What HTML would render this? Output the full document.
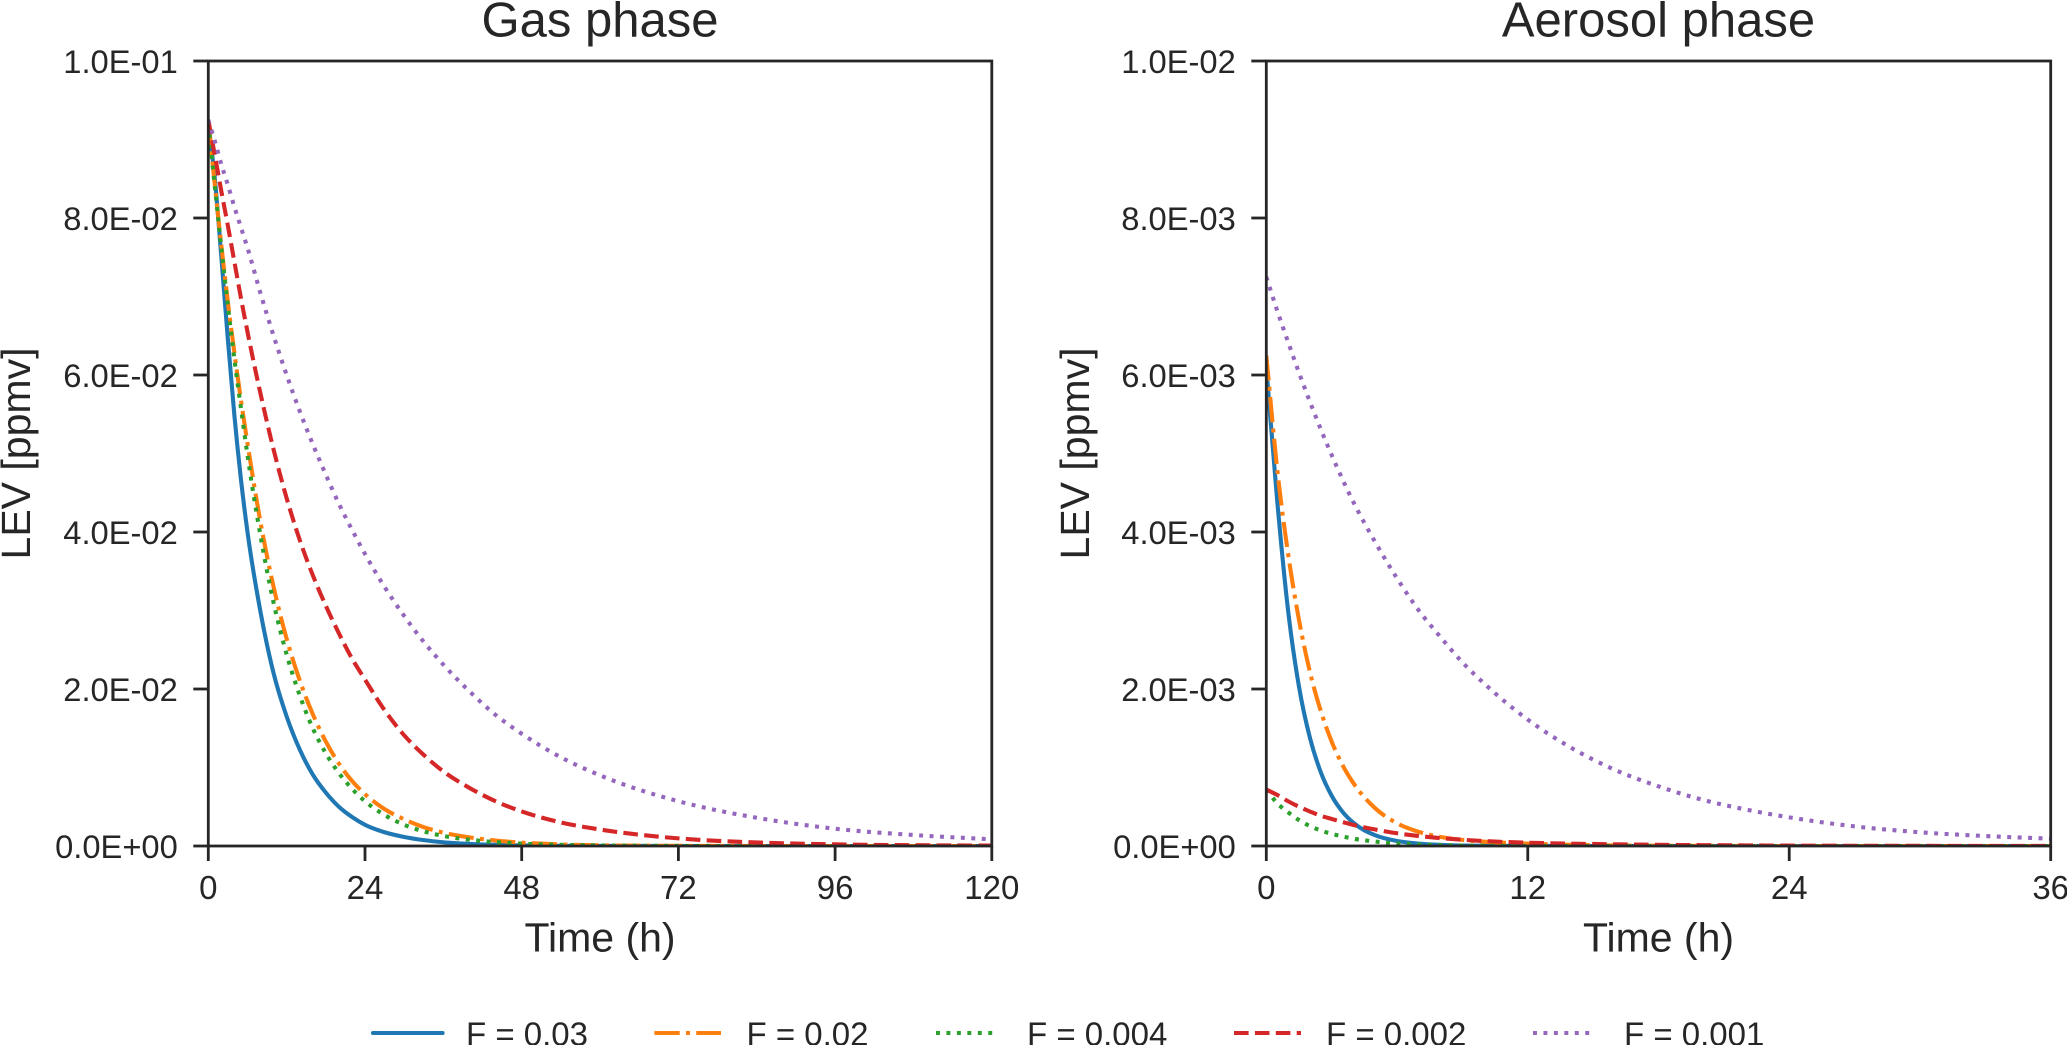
<!DOCTYPE html>
<html lang="en">
<head>
<meta charset="utf-8">
<title>LEV decay in gas and aerosol phases</title>
<style>
  html, body { margin: 0; padding: 0; background: #fff; width: 2067px; height: 1045px; overflow: hidden; }
  svg { display: block; font-family: "Liberation Sans", Arial, sans-serif; fill: #262626; }
</style>
</head>
<body>
<svg id="chart" xmlns="http://www.w3.org/2000/svg" width="2067" height="1045" viewBox="0 0 2067 1045"></svg>
<script>
// ---------- Data: Gas phase (time in h, values in 1E-02 ppmv) ----------
const gasTime = [0,1,2,3,4,5,6,8,10,12,14,16,18,20,22,24,27,30,33,36,40,44,48,54,60,72,84,96,108,120];
const gasF003 = [9.2,8.5,7.5,6.45,5.48,4.67,4.0,2.98,2.2,1.65,1.23,.91,.68,.5,.37,.27,.175,.115,.075,.048,.027,.015,.008,.003,.001,0,0,0,0,0];
const gasF002 = [9.25,8.42,7.65,6.93,6.28,5.68,5.13,4.12,3.3,2.64,2.11,1.68,1.33,1.05,.83,.66,.47,.34,.24,.17,.11,.07,.043,.02,.009,.002,0,0,0,0];
const gasF0004 = [9.2,8.4,7.62,6.88,6.2,5.58,4.98,3.95,3.1,2.44,1.92,1.5,1.18,.93,.73,.57,.395,.27,.186,.128,.08,.05,.03,.015,.007,.001,0,0,0,0];
const gasF0002 = [9.25,8.8,8.34,7.9,7.44,6.98,6.55,5.76,5.05,4.43,3.9,3.45,3.06,2.71,2.39,2.12,1.73,1.41,1.16,.95,.74,.57,.44,.3,.21,.097,.045,.021,.01,.005];
const gasF0001 = [9.25,8.98,8.68,8.42,8.14,7.88,7.62,7.04,6.5,6.0,5.54,5.12,4.73,4.36,4.03,3.72,3.3,2.93,2.6,2.31,1.97,1.67,1.43,1.13,.9,.57,.36,.22,.14,.085];

// ---------- Data: Aerosol phase (time in h, values in 1E-03 ppmv) ----------
const aerTime = [0,.5,1,1.5,2,2.5,3,3.5,4,5,6,7,8,9,10,12,14,16,18,20,22,24,27,30,33,36];
const aerF003 = [6.1,4.4,3.0,2.03,1.38,.94,.64,.435,.295,.137,.064,.03,.014,.006,.003,.001,0,0,0,0,0,0,0,0,0,0];
const aerF002 = [6.25,4.8,3.72,2.88,2.22,1.72,1.33,1.03,.8,.48,.29,.18,.115,.078,.055,.03,.015,.008,.004,.002,0,0,0,0,0,0];
const aerF0004 = [.72,.545,.43,.33,.255,.198,.155,.122,.093,.057,.032,.018,.01,.006,.003,.001,0,0,0,0,0,0,0,0,0,0];
const aerF0002 = [.72,.65,.57,.5,.44,.385,.345,.305,.268,.21,.162,.127,.1,.08,.063,.042,.03,.022,.015,.011,.008,.005,.003,.002,.001,.001];
const aerF0001 = [7.25,6.82,6.42,6.03,5.66,5.31,4.98,4.67,4.38,3.87,3.41,3.0,2.66,2.34,2.07,1.61,1.25,.97,.76,.59,.465,.365,.25,.175,.127,.093];

// ---------- Ticks and labels ----------
const gasXTicks = [0,24,48,72,96,120];
const aerXTicks = [0,12,24,36];
const yTickValues = [0,2,4,6,8,10];
const gasYLabels = ["0.0E+00","2.0E-02","4.0E-02","6.0E-02","8.0E-02","1.0E-01"];
const aerYLabels = ["0.0E+00","2.0E-03","4.0E-03","6.0E-03","8.0E-03","1.0E-02"];
const seriesNames = ["F = 0.03","F = 0.02","F = 0.004","F = 0.002","F = 0.001"];
const seriesSlugs = ["f-0-03","f-0-02","f-0-004","f-0-002","f-0-001"];
const seriesColors = ["#1f77b4","#ff7f0e","#2ca02c","#d62728","#9467bd"];
const seriesDashes = ["none","25.3 6.3 3.95 6.3","3.95 6.5","14.6 6.3","3.95 6.5"];

const NS = "http://www.w3.org/2000/svg";
const INK = "#262626";
const LW = 4.1;
const svg = document.getElementById("chart");

function make(parent, tag, attrs, name, text) {
  const el = document.createElementNS(NS, tag);
  for (const k in attrs) el.setAttribute(k, attrs[k]);
  
  
  if (text !== undefined) el.textContent = text;
  parent.appendChild(el);
  return el;
}

function smoothPath(xs, ys) {
  const n = xs.length;
  const slope = [];
  for (let i = 0; i < n; i++) {
    if (i === 0) { slope.push((ys[1] - ys[0]) / (xs[1] - xs[0])); continue; }
    if (i === n - 1) { slope.push((ys[i] - ys[i - 1]) / (xs[i] - xs[i - 1])); continue; }
    const h0 = xs[i] - xs[i - 1], h1 = xs[i + 1] - xs[i];
    const d0 = (ys[i] - ys[i - 1]) / h0, d1 = (ys[i + 1] - ys[i]) / h1;
    slope.push((h1 * d0 + h0 * d1) / (h0 + h1));
  }
  let d = "M" + xs[0].toFixed(2) + " " + ys[0].toFixed(2);
  for (let i = 0; i < n - 1; i++) {
    const h = (xs[i + 1] - xs[i]) / 3;
    d += "C" + (xs[i] + h).toFixed(2) + " " + (ys[i] + slope[i] * h).toFixed(2) +
         " " + (xs[i + 1] - h).toFixed(2) + " " + (ys[i + 1] - slope[i + 1] * h).toFixed(2) +
         " " + xs[i + 1].toFixed(2) + " " + ys[i + 1].toFixed(2);
  }
  return d;
}

function drawPanel(cfg) {
  const top = 61, bottom = 846;
  const left = cfg.left, right = cfg.right;
  const sx = v => left + (v / cfg.xMax) * (right - left);
  const sy = v => bottom - (v / cfg.yMax) * (bottom - top);
  const g = make(svg, "g", {}, cfg.slug + "-panel");

  const defs = document.createElementNS(NS, "defs");
  const clip = document.createElementNS(NS, "clipPath");
  clip.setAttribute("id", cfg.slug + "-clip");
  const rect = document.createElementNS(NS, "rect");
  rect.setAttribute("x", left); rect.setAttribute("y", top);
  rect.setAttribute("width", right - left); rect.setAttribute("height", bottom - top);
  clip.appendChild(rect); defs.appendChild(clip); g.appendChild(defs);

  const lines = make(g, "g", { "clip-path": "url(#" + cfg.slug + "-clip)" }, cfg.slug + "-series");
  cfg.series.forEach((vals, i) => {
    const xs = cfg.time.map(sx), ys = vals.map(sy);
    const attrs = { d: smoothPath(xs, ys), fill: "none", stroke: seriesColors[i], "stroke-width": LW, "stroke-linecap": "butt" };
    if (seriesDashes[i] !== "none") attrs["stroke-dasharray"] = seriesDashes[i];
    make(lines, "path", attrs, cfg.slug + "-line-" + seriesSlugs[i]);
  });

  const axis = { stroke: INK, "stroke-width": 2.8, fill: "none" };
  make(g, "rect", Object.assign({ x: left, y: top, width: right - left, height: bottom - top }, axis), cfg.slug + "-frame");

  cfg.xTicks.forEach(t => {
    const x = sx(t);
    make(g, "line", Object.assign({ x1: x, x2: x, y1: bottom, y2: bottom + 15 }, axis), cfg.slug + "-x-tick-" + t);
    make(g, "text", { x: x, y: 899, "text-anchor": "middle", "font-size": 33 }, cfg.slug + "-x-label-" + t, String(t));
  });
  yTickValues.forEach((v, i) => {
    const y = sy(v);
    make(g, "line", Object.assign({ x1: left - 15, x2: left, y1: y, y2: y }, axis), cfg.slug + "-y-tick-" + i);
    make(g, "text", { x: left - 30.5, y: y + 11.8, "text-anchor": "end", "font-size": 32.7 }, cfg.slug + "-y-label-" + i, cfg.yLabels[i]);
  });

  make(g, "text", { x: (left + right) / 2, y: 36.7, "text-anchor": "middle", "font-size": 49 }, cfg.slug + "-title", cfg.title);
  make(g, "text", { x: (left + right) / 2, y: 951.7, "text-anchor": "middle", "font-size": 41 }, cfg.slug + "-x-axis-title", "Time (h)");
  const yt = cfg.yTitleX;
  make(g, "text", { x: yt, y: 453.5, transform: "rotate(-90 " + yt + " 453.5)", "text-anchor": "middle", "font-size": 41 }, cfg.slug + "-y-axis-title", "LEV [ppmv]");
}

drawPanel({
  slug: "gas", title: "Gas phase", left: 208.3, right: 991.8, xMax: 120, yMax: 10,
  time: gasTime, series: [gasF003, gasF002, gasF0004, gasF0002, gasF0001],
  xTicks: gasXTicks, yLabels: gasYLabels, yTitleX: 30
});
drawPanel({
  slug: "aerosol", title: "Aerosol phase", left: 1266.3, right: 2050.7, xMax: 36, yMax: 10,
  time: aerTime, series: [aerF003, aerF002, aerF0004, aerF0002, aerF0001],
  xTicks: aerXTicks, yLabels: aerYLabels, yTitleX: 1089
});

// ---------- Legend ----------
const legendHandleStart = [373, 654.4, 936, 1234, 1533];
const legendHandleEnd = [442.6, 721, 996, 1301, 1593];
const legendTextStart = [466, 746.5, 1027, 1326, 1624];
const legend = make(svg, "g", {}, "legend");
seriesNames.forEach((name, i) => {
  const entry = make(legend, "g", {}, "legend-entry-" + seriesSlugs[i]);
  const attrs = { x1: legendHandleStart[i], x2: legendHandleEnd[i], y1: 1033, y2: 1033, stroke: seriesColors[i], "stroke-width": LW };
  if (seriesDashes[i] !== "none") attrs["stroke-dasharray"] = seriesDashes[i];
  else attrs["stroke-linecap"] = "round";
  make(entry, "line", attrs, "legend-handle-" + seriesSlugs[i]);
  make(entry, "text", { x: legendTextStart[i], y: 1045.5, "font-size": 33 }, "legend-label-" + seriesSlugs[i], name);
});
</script>
</body>
</html>
